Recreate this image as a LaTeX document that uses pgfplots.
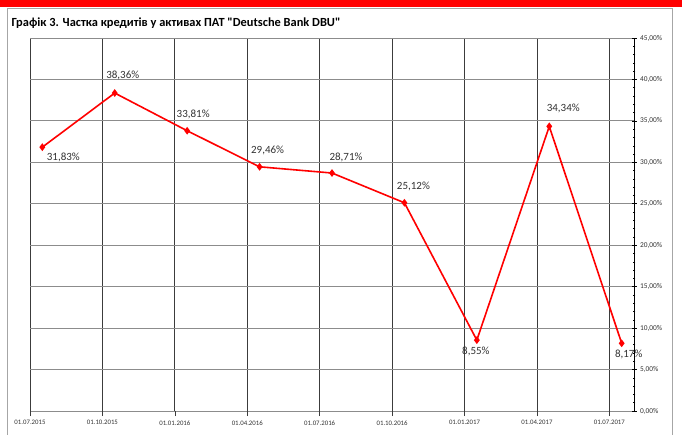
\documentclass[border=0pt]{standalone}
\usepackage{fontspec}
\setmainfont{Carlito}
\newfontfamily\titlefont{Carlito}[Ligatures=TeXOff]
\usepackage{pgfplots}
\pgfplotsset{compat=1.18}
\usepackage{pgfplotstable}

% x = quarter index (points sit a little right of the tick), y = share, %
\pgfplotstableread{
x     y      lab    dx  dy
0.17  31.83  31,83  21  -10
1.17  38.36  38,36  8   18
2.17  33.81  33,81  6   16
3.17  29.46  29,46  8   16
4.17  28.71  28,71  14  16
5.17  25.12  25,12  9   16
6.17  8.55   8,55   -1  -11
7.17  34.34  34,34  14  18
8.17  8.17   8,17   7   -11
}\loans

\definecolor{gridgray}{RGB}{140,140,140}
\definecolor{vgrid}{RGB}{60,60,60}
\definecolor{txt}{RGB}{50,50,50}

\begin{document}
\begin{tikzpicture}[x=1pt,y=1pt]
\useasboundingbox (0,0) rectangle (682,434);
\fill[red] (0,427) rectangle (682,434);
\draw[gray!70,line width=1pt] (7.5,-5) -- (7.5,425) -- (672,425) -- (672,-5);
\node[anchor=west,font=\titlefont\bfseries\fontsize{12.4}{14}\selectfont] at (8,411)
  {Графік 3. Частка кредитів у активах ПАТ "Deutsche Bank DBU"};
\begin{axis}[
  at={(30pt,23pt)}, anchor=south west,
  scale only axis, width=604pt, height=373pt,
  xmin=0, xmax=8.34, ymin=0, ymax=45,
  axis y line*=right, axis x line*=bottom,
  x axis line style={draw=none},
  y axis line style={black, line width=0.8pt},
  xtick={0,...,8},
  xticklabels={01.07.2015,01.10.2015,01.01.2016,01.04.2016,01.07.2016,
    01.10.2016,01.01.2017,01.04.2017,01.07.2017},
  ytick={0,5,...,45},
  yticklabels={{0,00\%},{5,00\%},{10,00\%},{15,00\%},{20,00\%},{25,00\%},
    {30,00\%},{35,00\%},{40,00\%},{45,00\%}},
  minor y tick num=4,
  xmajorgrids, ymajorgrids,
  x grid style={vgrid, line width=0.8pt},
  y grid style={gridgray, line width=0.8pt},
  x tick style={vgrid, line width=0.6pt},
  y tick style={black, line width=0.6pt},
  xtick align=outside, ytick align=center,
  minor y tick style={black, line width=0.5pt},
  major tick length=5pt, minor tick length=2.5pt,
  xticklabel style={font=\fontsize{6.8}{8}\selectfont, text=txt, yshift=-1pt},
  yticklabel style={font=\fontsize{7.4}{8}\selectfont, text=txt},
  clip=false,
]
\addplot[red, line width=1.6pt, mark=diamond*, mark size=2.6pt,
  mark options={fill=red}] table[x=x,y=y] {\loans};
\addplot[draw=none, mark=none,
  point meta=explicit symbolic,
  visualization depends on={\thisrow{dx}\as\dx},
  visualization depends on={\thisrow{dy}\as\dy},
  nodes near coords={\pgfplotspointmeta\%},
  nodes near coords style={anchor=center, xshift=\dx pt, yshift=\dy pt,
    font=\fontsize{11}{12}\selectfont, text=txt, inner sep=0pt},
] table[x=x,y=y,meta=lab] {\loans};
\end{axis}
\end{tikzpicture}
\end{document}
